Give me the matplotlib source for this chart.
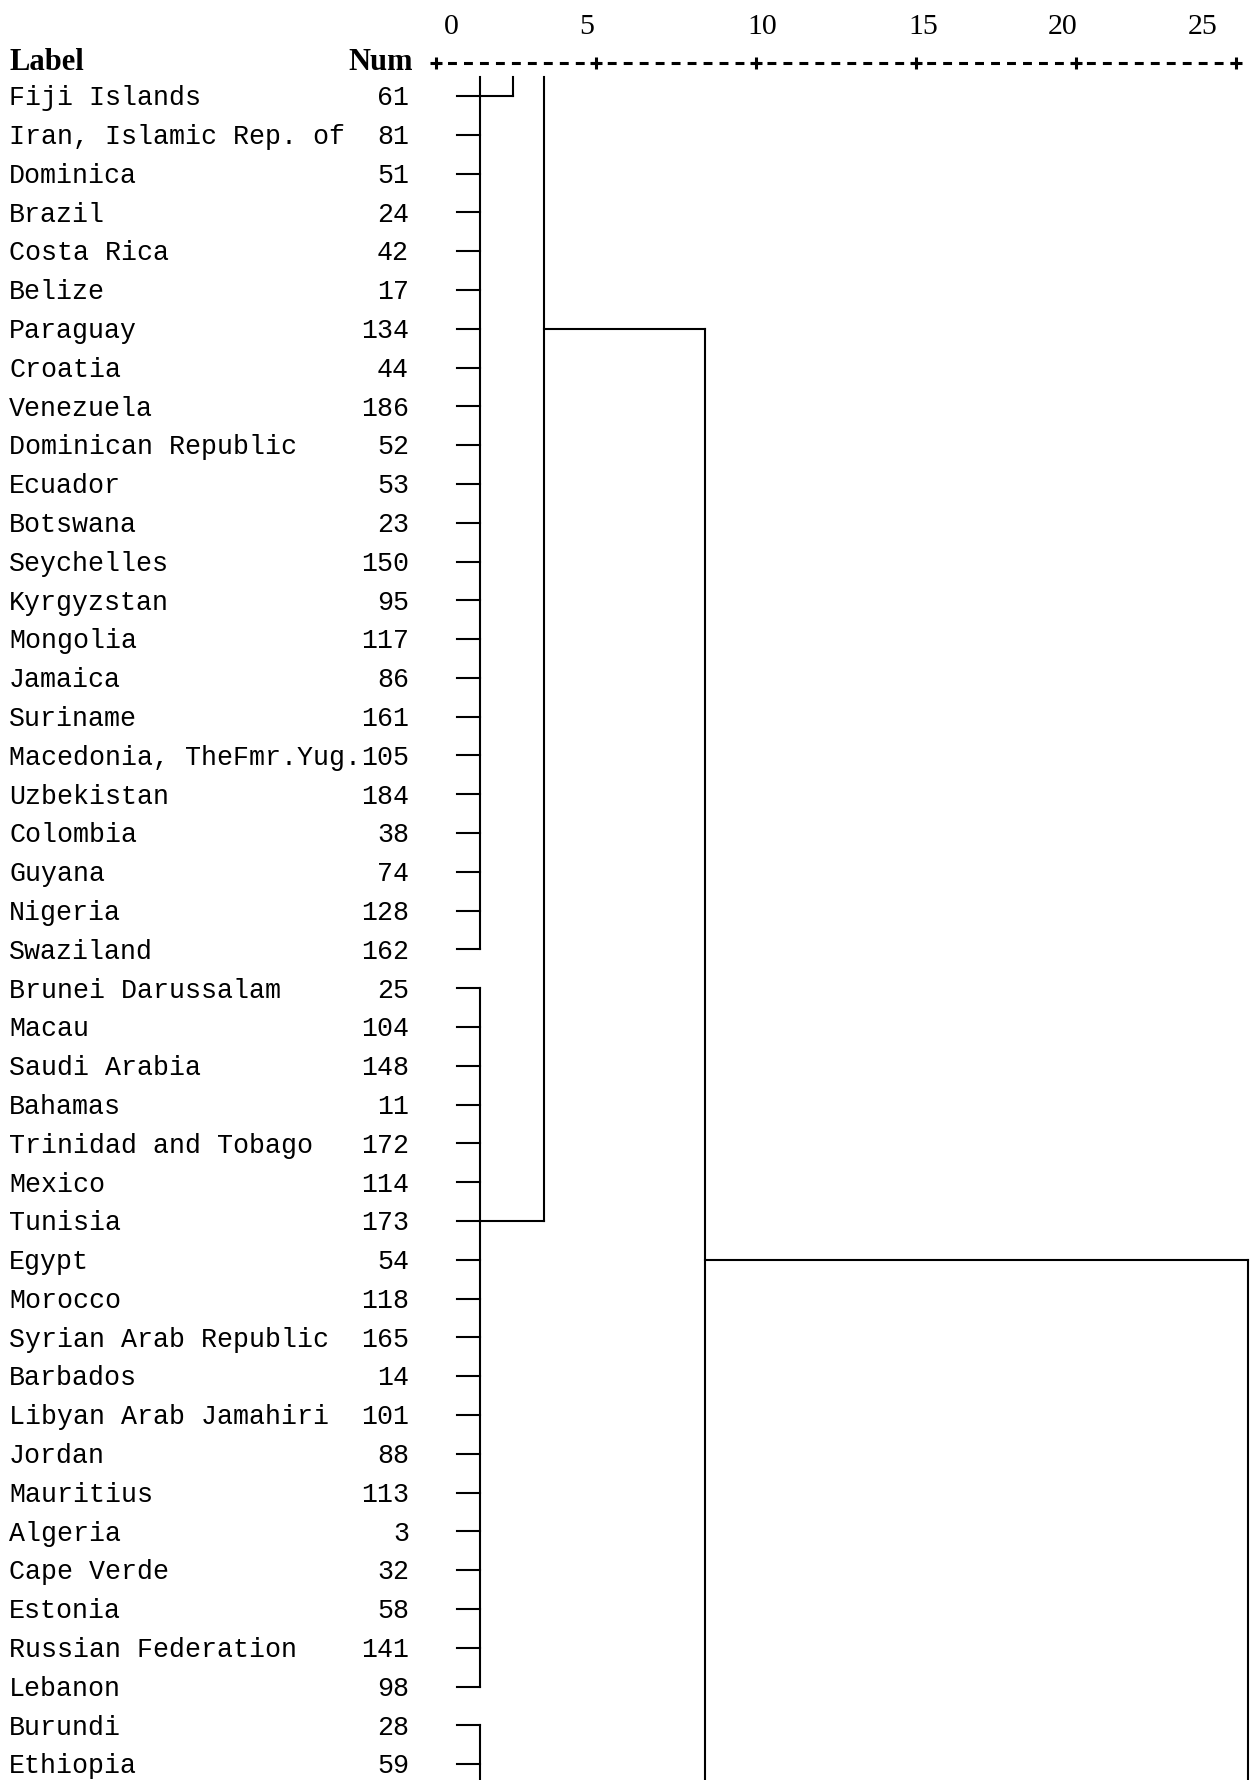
import matplotlib
matplotlib.use('Agg')
import matplotlib.pyplot as plt
from matplotlib.collections import LineCollection

plt.rcParams['lines.scale_dashes'] = False

# case labels and case numbers, in dendrogram order
labels = ['Fiji Islands', 'Iran, Islamic Rep. of', 'Dominica', 'Brazil', 'Costa Rica',
          'Belize', 'Paraguay', 'Croatia', 'Venezuela', 'Dominican Republic', 'Ecuador',
          'Botswana', 'Seychelles', 'Kyrgyzstan', 'Mongolia', 'Jamaica', 'Suriname',
          'Macedonia, TheFmr.Yug.', 'Uzbekistan', 'Colombia', 'Guyana', 'Nigeria',
          'Swaziland', 'Brunei Darussalam', 'Macau', 'Saudi Arabia', 'Bahamas',
          'Trinidad and Tobago', 'Mexico', 'Tunisia', 'Egypt', 'Morocco',
          'Syrian Arab Republic', 'Barbados', 'Libyan Arab Jamahiri', 'Jordan',
          'Mauritius', 'Algeria', 'Cape Verde', 'Estonia', 'Russian Federation',
          'Lebanon', 'Burundi', 'Ethiopia']
nums = [61, 81, 51, 24, 42, 17, 134, 44, 186, 52, 53, 23, 150, 95, 117, 86, 161, 105,
        184, 38, 74, 128, 162, 25, 104, 148, 11, 172, 114, 173, 54, 118, 165, 14, 101,
        88, 113, 3, 32, 58, 141, 98, 28, 59]

# rescaled distance axis
ticks = [0, 5, 10, 15, 20, 25]
tick_label_x = [0.47, 4.72, 10.19, 15.22, 19.59, 23.97]

# leaves start here and join their first cluster at leaf_join
leaf_x = 0.65
leaf_join = 1.39

# cluster nodes: height, rows spanned (open ends run off the page),
# row where the node links to its parent, and the parent's height
node_height = [1.39, 1.39, 1.39, 2.40, 3.39, 8.41, 25.39]
node_top = [-0.5, 23, 42, -0.5, -0.5, 6, 30]
node_bottom = [22, 41, 45, 0, 29, 45, 45]
node_link_row = [0, 29, None, None, 6, 30, None]
node_parent = [2.40, 3.39, None, None, 8.41, 25.39, None]

fig = plt.figure(figsize=(12.52, 17.80), dpi=100)
ax = fig.add_axes([0, 0, 1, 1])
ax.axis('off')
ax.set_xlim(-13.625, 25.5)
ax.set_ylim(43.41, -2.475)

segs = []
for r in range(len(labels)):
    segs.append([(leaf_x, r), (leaf_join, r)])
for h, top, bot, lr, ph in zip(node_height, node_top, node_bottom, node_link_row, node_parent):
    segs.append([(h, top), (h, bot)])
    if lr is not None:
        segs.append([(h, lr), (ph, lr)])
ax.add_collection(LineCollection(segs, colors='black', linewidths=1.5, capstyle='projecting'))

mono = 'Liberation Mono'
serif = 'Liberation Serif'
label_x = -13.34
col_end = label_x + 12.5   # 25 character cells of half a unit each
for r, (lab, n) in enumerate(zip(labels, nums)):
    ax.text(label_x, r + 0.24, lab, fontsize=19.2, family=mono, va='baseline', ha='left')
    ax.text(col_end, r + 0.24, str(n), fontsize=19.2, family=mono, va='baseline', ha='right')

# header
head_y = -0.68
ax.text(label_x, head_y, 'Label', fontsize=22, family=serif, weight='bold', va='baseline')
ax.text(-0.72, head_y, 'Num', fontsize=22, family=serif, weight='bold', va='baseline', ha='right')

# scale line: dashes every half unit, plus signs at the ticks
scale_y = -0.84
ax.plot([ticks[0], ticks[-1]], [scale_y, scale_y], color='black', lw=2.2,
        linestyle=(3.2, (6.4, 5.1)), dash_capstyle='butt')
ax.plot(ticks, [scale_y] * len(ticks), ls='none', marker='+', ms=8.5, mew=2.2, color='black')
for t, tx in zip(ticks, tick_label_x):
    ax.text(tx, -1.60, str(t), fontsize=21.5, family=serif, va='baseline', ha='center')

fig.savefig('out.png', dpi=100)
